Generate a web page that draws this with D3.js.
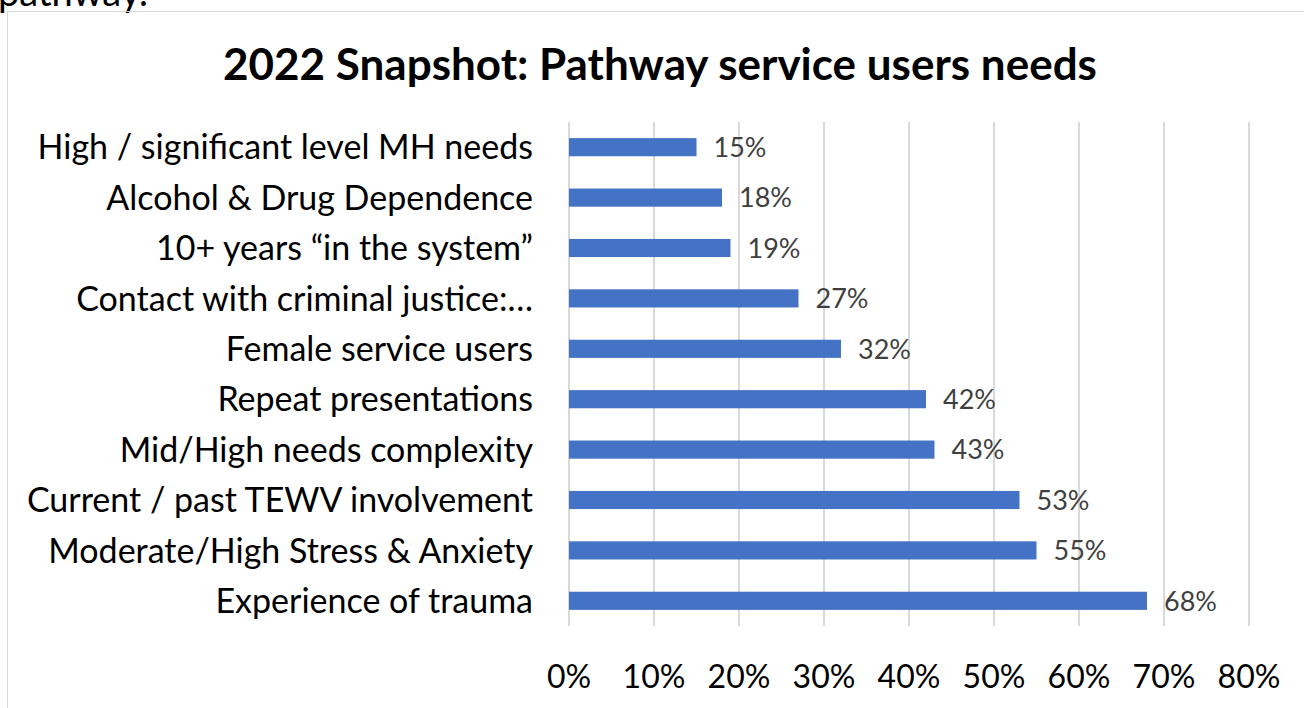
<!DOCTYPE html>
<html>
<head>
<meta charset="utf-8">
<script src="https://cdn.jsdelivr.net/npm/d3@7"></script>
<style>
  body { margin: 0; background: #fff; }
  svg { display: block; font-family: Lato, "Open Sans", sans-serif; }
</style>
</head>
<body>
<svg id="chart" width="1304" height="708"></svg>
<script>
const categories = [
  "High / significant level MH needs",
  "Alcohol & Drug Dependence",
  "10+ years \u201cin the system\u201d",
  "Contact with criminal justice:\u2026",
  "Female service users",
  "Repeat presentations",
  "Mid/High needs complexity",
  "Current / past TEWV involvement",
  "Moderate/High Stress & Anxiety",
  "Experience of trauma"
];
const values = [15, 18, 19, 27, 32, 42, 43, 53, 55, 68];
const ticks = [0, 10, 20, 30, 40, 50, 60, 70, 80];
const title = "2022 Snapshot: Pathway service users needs";

const svg = d3.select("#chart");

// cut-off text from the page above the chart
svg.append("text")
  .attr("x", -2).attr("y", 6)
  .attr("font-size", 38)
  .attr("fill", "#000")
  .text("pathway.");

// chart area border
svg.append("rect")
  .attr("x", 7.5).attr("y", 11.5)
  .attr("width", 1400).attr("height", 800)
  .attr("fill", "none")
  .attr("stroke", "#d9d9d9");

svg.append("text")
  .attr("x", 660).attr("y", 80)
  .attr("text-anchor", "middle")
  .attr("font-size", 44)
  .attr("font-weight", "bold")
  .attr("fill", "#000")
  .text(title);

const x = d3.scaleLinear().domain([0, 80]).range([569, 1249]);
const y = d3.scaleBand().domain(categories).range([122, 626]).paddingInner(0.64).paddingOuter(0.32);

// gridlines
svg.append("g")
  .selectAll("line")
  .data(ticks)
  .join("line")
  .attr("x1", d => x(d)).attr("x2", d => x(d))
  .attr("y1", 122).attr("y2", 626)
  .attr("stroke", "#d9d9d9")
  .attr("stroke-width", 2);

// bars
svg.append("g")
  .selectAll("rect")
  .data(values)
  .join("rect")
  .attr("x", x(0))
  .attr("y", (d, i) => y(categories[i]))
  .attr("width", d => x(d) - x(0))
  .attr("height", y.bandwidth())
  .attr("fill", "#4472c4");

// data labels
svg.append("g")
  .selectAll("text")
  .data(values)
  .join("text")
  .attr("x", d => x(d) + 17)
  .attr("y", (d, i) => y(categories[i]) + y.bandwidth() / 2)
  .attr("dy", "0.36em")
  .attr("font-size", 27)
  .attr("fill", "#404040")
  .text(d => d + "%");

// category labels
svg.append("g")
  .selectAll("text")
  .data(categories)
  .join("text")
  .attr("x", 533)
  .attr("y", d => y(d) + y.bandwidth() / 2)
  .attr("dy", "0.36em")
  .attr("text-anchor", "end")
  .attr("font-size", 34)
  .attr("fill", "#000")
  .text(d => d);

// x axis tick labels
svg.append("g")
  .selectAll("text")
  .data(ticks)
  .join("text")
  .attr("x", d => x(d))
  .attr("y", 688)
  .attr("text-anchor", "middle")
  .attr("font-size", 32)
  .attr("fill", "#000")
  .text(d => d + "%");
</script>
</body>
</html>
